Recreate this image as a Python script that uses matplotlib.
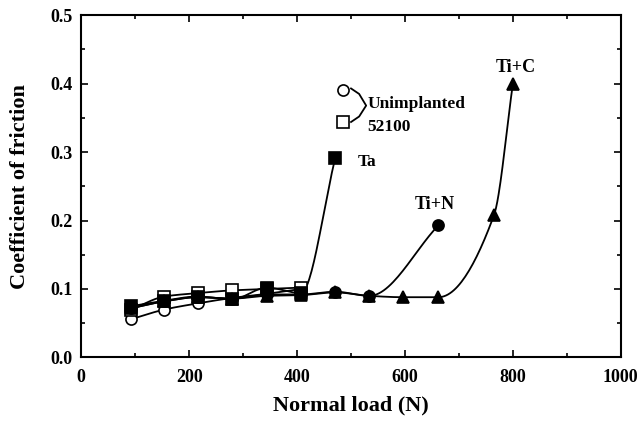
import matplotlib
matplotlib.use("Agg")
import matplotlib.pyplot as plt
from matplotlib.ticker import MultipleLocator
import numpy as np

# ---- data ----
loads = [93, 154, 216, 280, 344, 407, 471, 534, 596, 662, 765, 800]

unimpl_circle_x = loads[:6]
unimpl_circle_y = [0.056, 0.070, 0.079, 0.087, 0.093, 0.100]

unimpl_square_x = loads[:6]
unimpl_square_y = [0.070, 0.089, 0.094, 0.098, 0.100, 0.102]

ta_x = loads[:7]
ta_y = [0.075, 0.083, 0.089, 0.085, 0.102, 0.094, 0.292]

tin_x = loads[:8] + [662]
tin_y = [0.072, 0.082, 0.088, 0.086, 0.092, 0.092, 0.096, 0.090, 0.193]

tic_x = loads
tic_y = [0.072, 0.082, 0.088, 0.086, 0.090, 0.091, 0.095, 0.090, 0.088, 0.088, 0.208, 0.400]


def pchip(x, y, n=30):
    """monotone cubic through the points, used only to draw the smooth line"""
    x = np.asarray(x, float); y = np.asarray(y, float)
    h = np.diff(x); d = np.diff(y) / h
    m = np.zeros_like(y)
    for k in range(1, len(x) - 1):
        if d[k - 1] * d[k] > 0:
            w1 = 2 * h[k] + h[k - 1]; w2 = h[k] + 2 * h[k - 1]
            m[k] = (w1 + w2) / (w1 / d[k - 1] + w2 / d[k])
    m[0] = d[0]; m[-1] = d[-1]
    xs, ys = [], []
    for k in range(len(h)):
        t = np.linspace(0, 1, n)
        h00 = 2*t**3 - 3*t**2 + 1; h10 = t**3 - 2*t**2 + t
        h01 = -2*t**3 + 3*t**2; h11 = t**3 - t**2
        xs.append(x[k] + t * h[k])
        ys.append(h00*y[k] + h10*h[k]*m[k] + h01*y[k+1] + h11*h[k]*m[k+1])
    return np.concatenate(xs), np.concatenate(ys)


plt.rcParams["font.family"] = ["Liberation Serif", "DejaVu Serif"]
plt.rcParams["font.weight"] = "bold"

fig = plt.figure(figsize=(6.4, 4.23), dpi=100)
ax = fig.add_axes([0.127, 0.155, 0.843, 0.809])

lw = 1.3
for xs, ys, mk, fc in [
    (unimpl_circle_x, unimpl_circle_y, "o", "white"),
    (unimpl_square_x, unimpl_square_y, "s", "white"),
    (tic_x, tic_y, "^", "black"),
    (tin_x, tin_y, "o", "black"),
    (ta_x, ta_y, "s", "black"),
]:
    sx, sy = pchip(xs, ys)
    ax.plot(sx, sy, color="black", lw=lw, zorder=2)
    ax.plot(xs, ys, ls="none", marker=mk, ms=8, mfc=fc, mec="black",
            mew=1.2, zorder=3)

# legend-like annotations
ax.plot([485], [0.391], marker="o", ms=8, mfc="white", mec="black", mew=1.2)
ax.plot([485], [0.344], marker="s", ms=8, mfc="white", mec="black", mew=1.2)
ax.plot([500, 515, 528, 515, 500], [0.393, 0.385, 0.368, 0.352, 0.344],
        color="black", lw=1.3)
ax.text(530, 0.371, "Unimplanted", fontsize=12.5, fontweight="bold", va="center")
ax.text(530, 0.337, "52100", fontsize=12.5, fontweight="bold", va="center")
ax.text(513, 0.285, "Ta", fontsize=12.5, fontweight="bold", va="center")
ax.text(655, 0.224, "Ti+N", fontsize=13, fontweight="bold", ha="center", va="center")
ax.text(805, 0.424, "Ti+C", fontsize=13, fontweight="bold", ha="center", va="center")

ax.set_xlim(0, 1000)
ax.set_ylim(0, 0.5)
ax.xaxis.set_major_locator(MultipleLocator(200))
ax.xaxis.set_minor_locator(MultipleLocator(100))
ax.yaxis.set_major_locator(MultipleLocator(0.1))
ax.yaxis.set_minor_locator(MultipleLocator(0.05))
ax.yaxis.set_major_formatter(plt.FormatStrFormatter("%.1f"))
ax.tick_params(which="both", direction="in", top=True, right=True, width=1.2)
ax.tick_params(which="major", length=5, labelsize=13)
ax.tick_params(axis="x", which="major", pad=8)
ax.tick_params(axis="y", which="major", pad=6)
ax.tick_params(which="minor", length=3)
for lab in ax.get_xticklabels() + ax.get_yticklabels():
    lab.set_fontweight("bold")
for s in ax.spines.values():
    s.set_linewidth(1.5)

ax.set_xlabel("Normal load (N)", fontsize=16, fontweight="bold")
ax.set_ylabel("Coefficient of friction", fontsize=16, fontweight="bold")
ax.xaxis.set_label_coords(0.5, -0.11)
ax.yaxis.set_label_coords(-0.095, 0.5)

fig.savefig("out.png", dpi=100)
